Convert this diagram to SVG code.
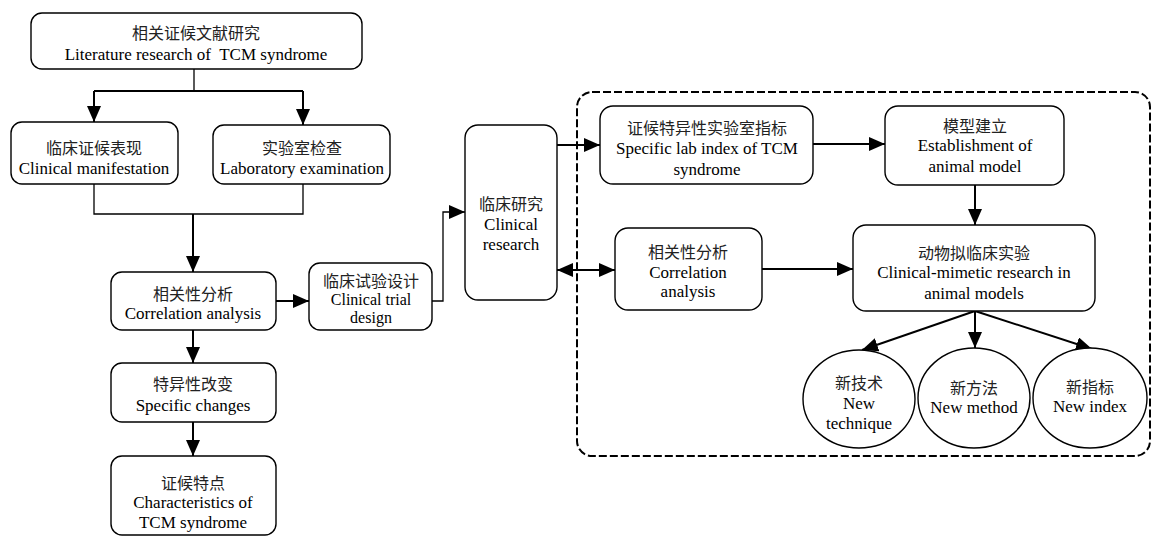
<svg xmlns="http://www.w3.org/2000/svg" width="1152" height="536" viewBox="0 0 1152 536">
<style>
.box{fill:#fff;stroke:#000;stroke-width:1.4}
.t{font-family:"Liberation Serif","Noto Sans CJK SC",serif;font-size:17px;fill:#000;text-anchor:middle;dominant-baseline:central}
.zh{font-family:"Noto Sans CJK SC","Liberation Serif",sans-serif;font-size:16px;fill:#222;text-anchor:middle;dominant-baseline:central}
.c{fill:none;stroke:#000;stroke-width:2}
.c1{fill:none;stroke:#000;stroke-width:1.3}
.dash{fill:none;stroke:#000;stroke-width:2;stroke-dasharray:8 3}
</style>
<defs>
<marker id="ah" markerUnits="userSpaceOnUse" markerWidth="17" markerHeight="14" refX="16" refY="7" orient="auto">
<path d="M0,0 L16,7 L0,14 z" fill="#000"/>
</marker>
<marker id="ahs" markerUnits="userSpaceOnUse" markerWidth="17" markerHeight="14" refX="0" refY="7" orient="auto">
<path d="M16,0 L0,7 L16,14 z" fill="#000"/>
</marker>
</defs>
<rect class="dash" x="577" y="92" width="573" height="364" rx="15"/>
<g id="connectors">
<path class="c1" d="M194,69 V91"/>
<path class="c" d="M94,91 H303"/>
<path class="c" d="M94,91 V122" marker-end="url(#ah)"/>
<path class="c" d="M303,91 V125" marker-end="url(#ah)"/>
<path class="c1" d="M94,184 V214 H303 V184"/>
<path class="c" d="M193,214 V272" marker-end="url(#ah)"/>
<path class="c" d="M276,301 H309" marker-end="url(#ah)"/>
<path class="c" d="M193,330 V363" marker-end="url(#ah)"/>
<path class="c" d="M193,422 V456" marker-end="url(#ah)"/>
<path class="c1" d="M432,301 H443 V212 H465" marker-end="url(#ah)"/>
<path class="c" d="M557,145 H600" marker-end="url(#ah)"/>
<path class="c" d="M813,144 H885" marker-end="url(#ah)"/>
<path class="c" d="M975,185 V225" marker-end="url(#ah)"/>
<path class="c" d="M557,270 H615" marker-start="url(#ahs)" marker-end="url(#ah)"/>
<path class="c" d="M762,269 H853" marker-end="url(#ah)"/>
<path class="c" d="M975,311 L862,350" marker-end="url(#ah)"/>
<path class="c" d="M975,311 V348" marker-end="url(#ah)"/>
<path class="c" d="M975,311 L1092,349" marker-end="url(#ah)"/>
</g>
<g id="n1"><rect class="box" x="31" y="13" width="331" height="56" rx="11"/>
<text class="zh" x="196" y="32">相关证候文献研究</text>
<text class="t" x="196" y="54" xml:space="preserve">Literature research of  TCM syndrome</text></g>
<g id="n2"><rect class="box" x="11" y="122" width="167" height="62" rx="11"/>
<text class="zh" x="94" y="147">临床证候表现</text>
<text class="t" x="94" y="168">Clinical manifestation</text></g>
<g id="n3"><rect class="box" x="213" y="125" width="177" height="59" rx="11"/>
<text class="zh" x="302" y="147">实验室检查</text>
<text class="t" x="302" y="168">Laboratory examination</text></g>
<g id="n4"><rect class="box" x="111" y="272" width="165" height="58" rx="11"/>
<text class="zh" x="193" y="293">相关性分析</text>
<text class="t" x="193" y="313">Correlation analysis</text></g>
<g id="n5"><rect class="box" x="309" y="263" width="123" height="67" rx="11"/>
<text class="zh" x="371" y="280">临床试验设计</text>
<text class="t" x="371" y="299" style="font-size:16px">Clinical trial</text>
<text class="t" x="371" y="317" style="font-size:16px">design</text></g>
<g id="n6"><rect class="box" x="465" y="125" width="92" height="175" rx="13"/>
<text class="zh" x="511" y="203">临床研究</text>
<text class="t" x="511" y="224">Clinical</text>
<text class="t" x="511" y="244">research</text></g>
<g id="n7"><rect class="box" x="600" y="106" width="213" height="78" rx="13"/>
<text class="zh" x="707" y="127">证候特异性实验室指标</text>
<text class="t" x="707" y="148">Specific lab index of TCM</text>
<text class="t" x="707" y="169">syndrome</text></g>
<g id="n8"><rect class="box" x="885" y="106" width="179" height="79" rx="13"/>
<text class="zh" x="975" y="125">模型建立</text>
<text class="t" x="975" y="145">Establishment of</text>
<text class="t" x="975" y="166">animal model</text></g>
<g id="n9"><rect class="box" x="853" y="225" width="242" height="86" rx="13"/>
<text class="zh" x="974" y="252">动物拟临床实验</text>
<text class="t" x="974" y="272">Clinical-mimetic research in</text>
<text class="t" x="974" y="293">animal models</text></g>
<g id="n10"><rect class="box" x="615" y="228" width="147" height="82" rx="13"/>
<text class="zh" x="688" y="251">相关性分析</text>
<text class="t" x="688" y="272">Correlation</text>
<text class="t" x="688" y="291">analysis</text></g>
<g id="n11"><rect class="box" x="111" y="363" width="165" height="59" rx="11"/>
<text class="zh" x="193" y="383">特异性改变</text>
<text class="t" x="193" y="405">Specific changes</text></g>
<g id="n12"><rect class="box" x="111" y="456" width="165" height="79" rx="11"/>
<text class="zh" x="193" y="482">证候特点</text>
<text class="t" x="193" y="502">Characteristics of</text>
<text class="t" x="193" y="522">TCM syndrome</text></g>
<g id="e1"><ellipse class="box" cx="859" cy="399" rx="56" ry="49"/>
<text class="zh" x="859" y="382">新技术</text>
<text class="t" x="859" y="403">New</text>
<text class="t" x="859" y="423">technique</text></g>
<g id="e2"><ellipse class="box" cx="974" cy="398" rx="56" ry="50"/>
<text class="zh" x="974" y="387">新方法</text>
<text class="t" x="974" y="407">New method</text></g>
<g id="e3"><ellipse class="box" cx="1090" cy="398" rx="57" ry="50"/>
<text class="zh" x="1090" y="386">新指标</text>
<text class="t" x="1090" y="406">New index</text></g>
</svg>
